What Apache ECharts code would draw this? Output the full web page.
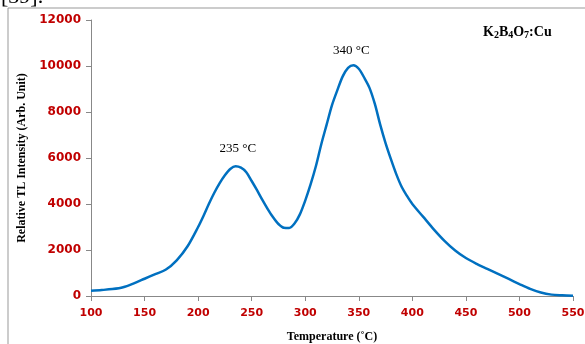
<!DOCTYPE html>
<html>
<head>
<meta charset="utf-8">
<script src="https://cdn.jsdelivr.net/npm/echarts@6/dist/echarts.min.js"></script>
<style>
  html, body { margin: 0; padding: 0; background: #fff; }
  #chart { width: 585px; height: 344px; }
</style>
</head>
<body>
<div id="chart"></div>
<script>
// temperature (°C) and TL intensity
var temps = [100, 110, 120, 130, 140, 150, 160, 170, 180, 190,
  200, 205, 210, 215, 220, 225, 230, 235, 240, 245, 250, 255, 260, 265, 270, 275, 280, 285, 290, 295,
  300, 305, 310, 315, 320, 325, 330, 335, 340, 345, 350, 355, 360, 365, 370, 375, 380, 385, 390, 395,
  400, 410, 420, 430, 440, 450, 460, 470, 480, 490, 500, 510, 520, 530, 540, 550]
var intensity = [230, 260, 300, 380, 550, 750, 950, 1150, 1550, 2150,
  3000, 3480, 4000, 4480, 4900, 5250, 5520, 5640, 5580, 5380, 5000, 4600, 4180, 3780, 3420, 3130, 2970, 2960, 3150, 3550,
  4150, 4850, 5650, 6600, 7450, 8300, 8950, 9550, 9920, 10030, 9880, 9500, 9050, 8350, 7450, 6650, 5950, 5300, 4750, 4350,
  4000, 3450, 2900, 2400, 1980, 1650, 1400, 1180, 960, 740, 520, 310, 150, 60, 30, 10]
var peakLabels = ['235 °C', '340 °C']
var peakCoords = [[237, 6400], [343, 10650]]

var red = '#c00000'
var serif = '"Liberation Serif", "Times New Roman", serif'
var sans = '"DejaVu Sans", Verdana, sans-serif'

var chart = echarts.init(document.getElementById('chart'))

chart.setOption({
  animation: false,
  grid: { left: 91, right: 12, top: 20, bottom: 48, outerBoundsMode: 'none' },
  xAxis: {
    type: 'value',
    min: 100, max: 550, interval: 50,
    name: 'Temperature (˚C)',
    nameLocation: 'middle',
    nameGap: 35,
    nameTextStyle: { fontFamily: serif, fontWeight: 'bold', fontSize: 12, color: '#000' },
    axisLine: { lineStyle: { color: '#888' } },
    axisTick: { length: 5, lineStyle: { color: '#888' } },
    axisLabel: { color: red, fontWeight: 'bold', fontSize: 11, fontFamily: sans, margin: 12 },
    splitLine: { show: false }
  },
  yAxis: {
    type: 'value',
    min: 0, max: 12000, interval: 2000,
    name: 'Relative TL Intensity (Arb. Unit)',
    nameLocation: 'middle',
    nameGap: 63,
    nameTextStyle: { fontFamily: serif, fontWeight: 'bold', fontSize: 12, color: '#000' },
    axisLine: { show: true, lineStyle: { color: '#888' } },
    axisTick: { show: true, length: 5, lineStyle: { color: '#888' } },
    axisLabel: { color: red, fontWeight: 'bold', fontSize: 12, fontFamily: sans, margin: 10, formatter: function (v) { return String(v) } },
    splitLine: { show: false }
  },
  series: [{
    type: 'line',
    data: temps.map(function (t, i) { return [t, intensity[i]] }),
    smooth: 0.3,
    showSymbol: false,
    lineStyle: { color: '#0070c0', width: 2.5 },
    markPoint: {
      symbol: 'circle',
      symbolSize: 0,
      label: {
        show: true,
        position: 'inside',
        fontFamily: serif,
        fontSize: 13,
        color: '#000',
        formatter: function (p) { return p.name }
      },
      data: peakLabels.map(function (name, i) { return { name: name, coord: peakCoords[i] } })
    }
  }],
  graphic: [
    {
      type: 'rect',
      shape: { x: 8, y: 8, width: 600, height: 400 },
      style: { fill: 'none', stroke: '#999', lineWidth: 1 },
      silent: true
    },
    {
      type: 'text',
      left: 1, top: -14,
      style: { text: '[39].', font: '22px ' + serif, fill: '#000' }
    },
    {
      type: 'text',
      left: 483, top: 25,
      style: {
        text: '{a|K}{s|2}{a|B}{s|4}{a|O}{s|7}{a|:Cu}',
        rich: {
          a: { fontFamily: serif, fontWeight: 'bold', fontSize: 14, color: '#000', lineHeight: 16, verticalAlign: 'bottom' },
          s: { fontFamily: serif, fontWeight: 'bold', fontSize: 10, color: '#000', lineHeight: 16, verticalAlign: 'bottom', padding: [0, 0, -1, 0] }
        }
      }
    }
  ]
})
</script>
</body>
</html>
